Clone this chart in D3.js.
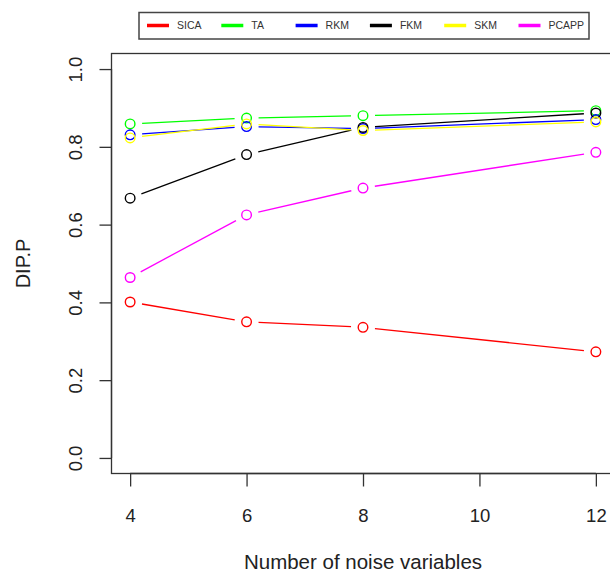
<!DOCTYPE html>
<html>
<head>
<meta charset="utf-8">
<script src="https://cdn.jsdelivr.net/npm/d3@7"></script>
<style>
  body { margin: 0; background: #fff; }
  svg { font-family: "Liberation Sans", Arial, sans-serif; }
</style>
</head>
<body>
<div id="chart"></div>
<script>
// data
const noiseVars = [4, 6, 8, 12];
const methods = ["SICA", "TA", "RKM", "FKM", "SKM", "PCAPP"];
const colors = ["#ff0000", "#00ff00", "#0000ff", "#000000", "#ffff00", "#ff00ff"];
const sica  = [0.401, 0.350, 0.336, 0.273];
const ta    = [0.859, 0.874, 0.880, 0.893];
const rkm   = [0.831, 0.852, 0.847, 0.870];
const fkm   = [0.668, 0.780, 0.850, 0.887];
const skm   = [0.823, 0.859, 0.842, 0.864];
const pcapp = [0.464, 0.625, 0.694, 0.786];
const yTicks = [0, 0.2, 0.4, 0.6, 0.8, 1.0];
const xTicks = [4, 6, 8, 10, 12];

const series = [sica, ta, rkm, fkm, skm, pcapp];

const width = 610, height = 574;
const svg = d3.select("#chart").append("svg")
  .attr("width", width)
  .attr("height", height);

// R-style 4% padding on both axes
const x = d3.scaleLinear().domain([3.68, 12.32]).range([111.5, 614.5]);
const y = d3.scaleLinear().domain([-0.04, 1.04]).range([473.5, 53.5]);

const axisCol = "#333";

// plot box (right side runs out of the window)
svg.append("rect")
  .attr("x", x.range()[0]).attr("y", y.range()[1])
  .attr("width", x.range()[1] - x.range()[0])
  .attr("height", y.range()[0] - y.range()[1])
  .attr("fill", "none").attr("stroke", axisCol).attr("stroke-width", 1.3);

// y axis
let yAxis = svg.append("g")
  .attr("transform", `translate(${x.range()[0]},0)`)
  .call(d3.axisLeft(y).tickValues(yTicks).tickSize(12).tickFormat(d3.format(".1f")));
yAxis.select(".domain")
  .attr("d", `M0,${y(0)}V${y(1)}`)
  .attr("stroke", axisCol).attr("stroke-width", 1.3);
yAxis.selectAll(".tick line").attr("stroke", axisCol).attr("stroke-width", 1.3);
yAxis.selectAll(".tick text")
  .attr("font-size", 18.5).attr("fill", "#222")
  .attr("x", null).attr("dy", null)
  .attr("text-anchor", "middle")
  .attr("transform", "translate(-30,0) rotate(-90)");

// x axis
let xAxis = svg.append("g")
  .attr("transform", `translate(0,${y.range()[0]})`)
  .call(d3.axisBottom(x).tickValues(xTicks).tickSize(13).tickFormat(d3.format("d")));
xAxis.select(".domain")
  .attr("d", `M${x(4)},0H${x(12)}`)
  .attr("stroke", axisCol).attr("stroke-width", 1.3);
xAxis.selectAll(".tick line").attr("stroke", axisCol).attr("stroke-width", 1.3);
xAxis.selectAll(".tick text")
  .attr("font-size", 18.5).attr("fill", "#222")
  .attr("y", 48).attr("dy", null);

// axis titles
svg.append("text")
  .attr("x", 363).attr("y", 569)
  .attr("text-anchor", "middle")
  .attr("font-size", 20.5).attr("fill", "#222")
  .text("Number of noise variables");

svg.append("text")
  .attr("transform", `translate(30,${y(0.5)}) rotate(-90)`)
  .attr("text-anchor", "middle")
  .attr("font-size", 20).attr("fill", "#222")
  .text("DIP.P");

// lines with gaps around points (R type = "b")
const gap = 12, r = 4.8;
const plot = svg.append("g");

series.forEach((vals, i) => {
  const pts = noiseVars.map((n, j) => [x(n), y(vals[j])]);
  const segs = d3.pairs(pts).map(([a, b]) => {
    const dx = b[0] - a[0], dy = b[1] - a[1];
    const len = Math.hypot(dx, dy);
    const ux = dx / len, uy = dy / len;
    return [a[0] + ux * gap, a[1] + uy * gap, b[0] - ux * gap, b[1] - uy * gap];
  });
  const g = plot.append("g");
  g.selectAll("line").data(segs).enter().append("line")
    .attr("x1", d => d[0]).attr("y1", d => d[1])
    .attr("x2", d => d[2]).attr("y2", d => d[3])
    .attr("stroke", colors[i]).attr("stroke-width", 1.3);
  g.selectAll("circle").data(pts).enter().append("circle")
    .attr("cx", d => d[0]).attr("cy", d => d[1])
    .attr("r", r)
    .attr("fill", "none").attr("stroke", colors[i]).attr("stroke-width", 1.4);
});

// legend
const legend = svg.append("g");
legend.append("rect")
  .attr("x", 139).attr("y", 12.5).attr("width", 450).attr("height", 26.5)
  .attr("fill", "#fff").attr("stroke", "#444").attr("stroke-width", 1.5);

const item = legend.selectAll("g.item").data(methods).enter().append("g")
  .attr("class", "item")
  .attr("transform", (d, i) => `translate(${147 + i * 74.3},25.5)`);
item.append("line")
  .attr("x1", 0).attr("x2", 22)
  .attr("stroke", (d, i) => colors[i]).attr("stroke-width", 3.5);
item.append("text")
  .attr("x", 30).attr("dy", "0.35em")
  .attr("font-size", 10.5).attr("fill", "#333")
  .text(d => d);
</script>
</body>
</html>
